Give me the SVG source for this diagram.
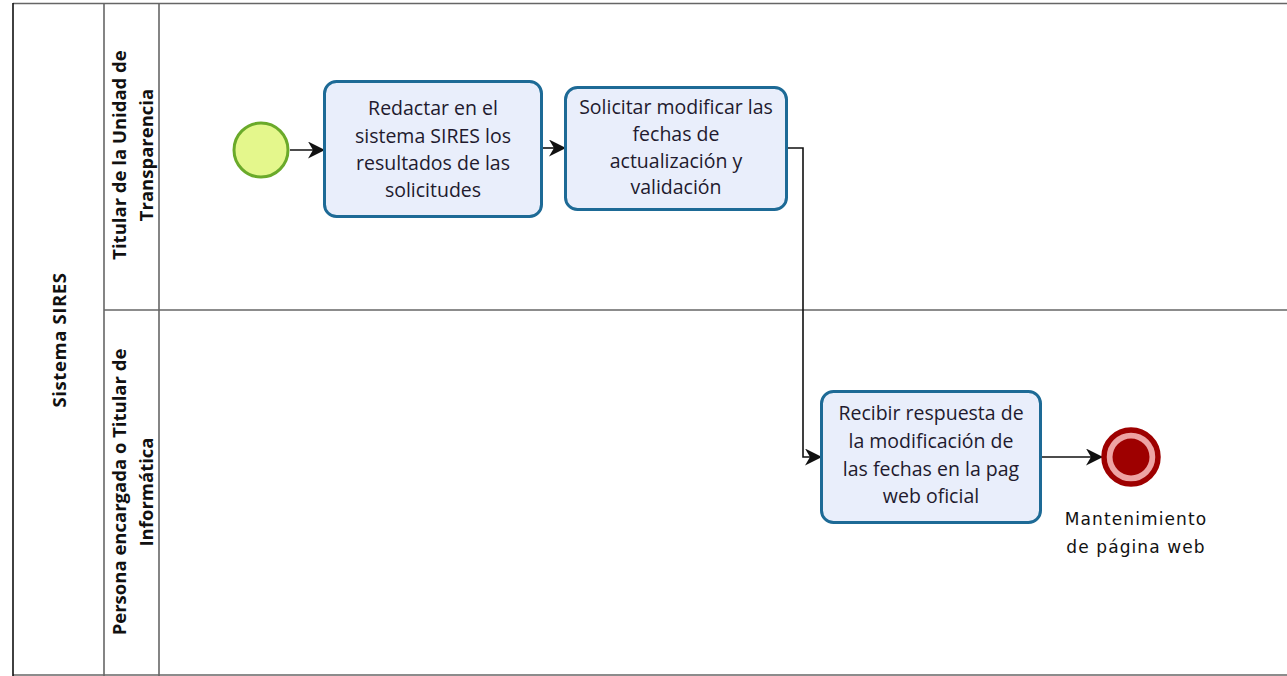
<svg xmlns="http://www.w3.org/2000/svg" width="1287" height="676" viewBox="0 0 1287 676">
  <style>
    .pool { fill: none; stroke: #111; stroke-width: 1.6; }
    .lane { fill: none; stroke: #666; stroke-width: 1.6; }
    .hdr { font-family: "Open Sans", "Noto Sans", sans-serif; font-weight: bold; font-size: 18.5px; fill: #111; text-anchor: middle; }
    .task rect { fill: #e9eefb; stroke: #1d6a96; stroke-width: 3; }
    .task text { font-family: "Open Sans", "Noto Sans", sans-serif; font-size: 19.5px; fill: #221a2e; text-anchor: middle; }
    .flow { fill: none; stroke: #111; stroke-width: 1.6; }
    .lbl { font-family: "DejaVu Sans", sans-serif; font-size: 17px; fill: #111; text-anchor: middle; letter-spacing: 1.1px; }
  </style>
  <defs>
    <marker id="arr" viewBox="0 0 17 17" refX="16" refY="8.5" markerWidth="17" markerHeight="17" markerUnits="userSpaceOnUse" orient="auto">
      <path d="M0,0 L17,8.5 L0,17 L5,8.5 z" fill="#111"/>
    </marker>
  </defs>

  <rect width="1287" height="676" fill="#fff"/>

  <!-- pool and lanes -->
  <g id="pool">
    <line class="lane" x1="13" y1="3.5" x2="1287" y2="3.5"/>
    <line class="lane" x1="13" y1="675" x2="1287" y2="675" stroke="#aaa"/>
    <line class="pool" x1="13" y1="3" x2="13" y2="676"/>
    <line class="lane" x1="104" y1="3" x2="104" y2="676"/>
    <line class="lane" x1="159" y1="3" x2="159" y2="676"/>
    <line class="lane" x1="104" y1="310" x2="1287" y2="310"/>
    <text class="hdr" transform="translate(65.5,340) rotate(-90)" style="letter-spacing:0.6px">Sistema SIRES</text>
  </g>
  <g id="lane-transparencia">
    <text class="hdr" transform="translate(125.5,155) rotate(-90)">Titular de la Unidad de</text>
    <text class="hdr" transform="translate(152.5,155) rotate(-90)">Transparencia</text>
  </g>
  <g id="lane-informatica">
    <text class="hdr" transform="translate(125.5,492) rotate(-90)">Persona encargada o Titular de</text>
    <text class="hdr" transform="translate(152.5,492) rotate(-90)">Informática</text>
  </g>

  <!-- connectors -->
  <g id="connectors">
    <line class="flow" x1="290" y1="150" x2="324" y2="150" marker-end="url(#arr)"/>
    <line class="flow" x1="542" y1="148" x2="565" y2="148" marker-end="url(#arr)"/>
    <polyline class="flow" points="787,148 803,148 803,457 821,457" marker-end="url(#arr)"/>
    <line class="flow" x1="1041" y1="457" x2="1102" y2="457" marker-end="url(#arr)"/>
  </g>

  <!-- start event -->
  <g id="start">
    <circle cx="261" cy="150" r="27" fill="#e4f78c" stroke="#6aaa2a" stroke-width="3"/>
  </g>

  <g id="task1" class="task">
    <rect x="324.5" y="81.5" width="217" height="135" rx="12"/>
    <text x="433" y="115">Redactar en el</text>
    <text x="433" y="143">sistema SIRES los</text>
    <text x="433" y="170">resultados de las</text>
    <text x="433" y="197">solicitudes</text>
  </g>

  <g id="task2" class="task">
    <rect x="565.5" y="87.5" width="221" height="122" rx="12"/>
    <text x="676" y="114">Solicitar modificar las</text>
    <text x="676" y="141">fechas de</text>
    <text x="676" y="168">actualización y</text>
    <text x="676" y="194">validación</text>
  </g>

  <g id="task3" class="task">
    <rect x="821.5" y="391.5" width="219" height="131" rx="12"/>
    <text x="931" y="420">Recibir respuesta de</text>
    <text x="931" y="448">la modificación de</text>
    <text x="931" y="476">las fechas en la pag</text>
    <text x="931" y="503">web oficial</text>
  </g>

  <!-- end event -->
  <g id="end">
    <circle cx="1131" cy="457" r="27" fill="#eea3a3" stroke="#9e0000" stroke-width="5.5"/>
    <circle cx="1131" cy="457" r="18.5" fill="#9e0000"/>
    <text class="lbl" x="1136" y="525">Mantenimiento</text>
    <text class="lbl" x="1136" y="553">de página web</text>
  </g>
</svg>
